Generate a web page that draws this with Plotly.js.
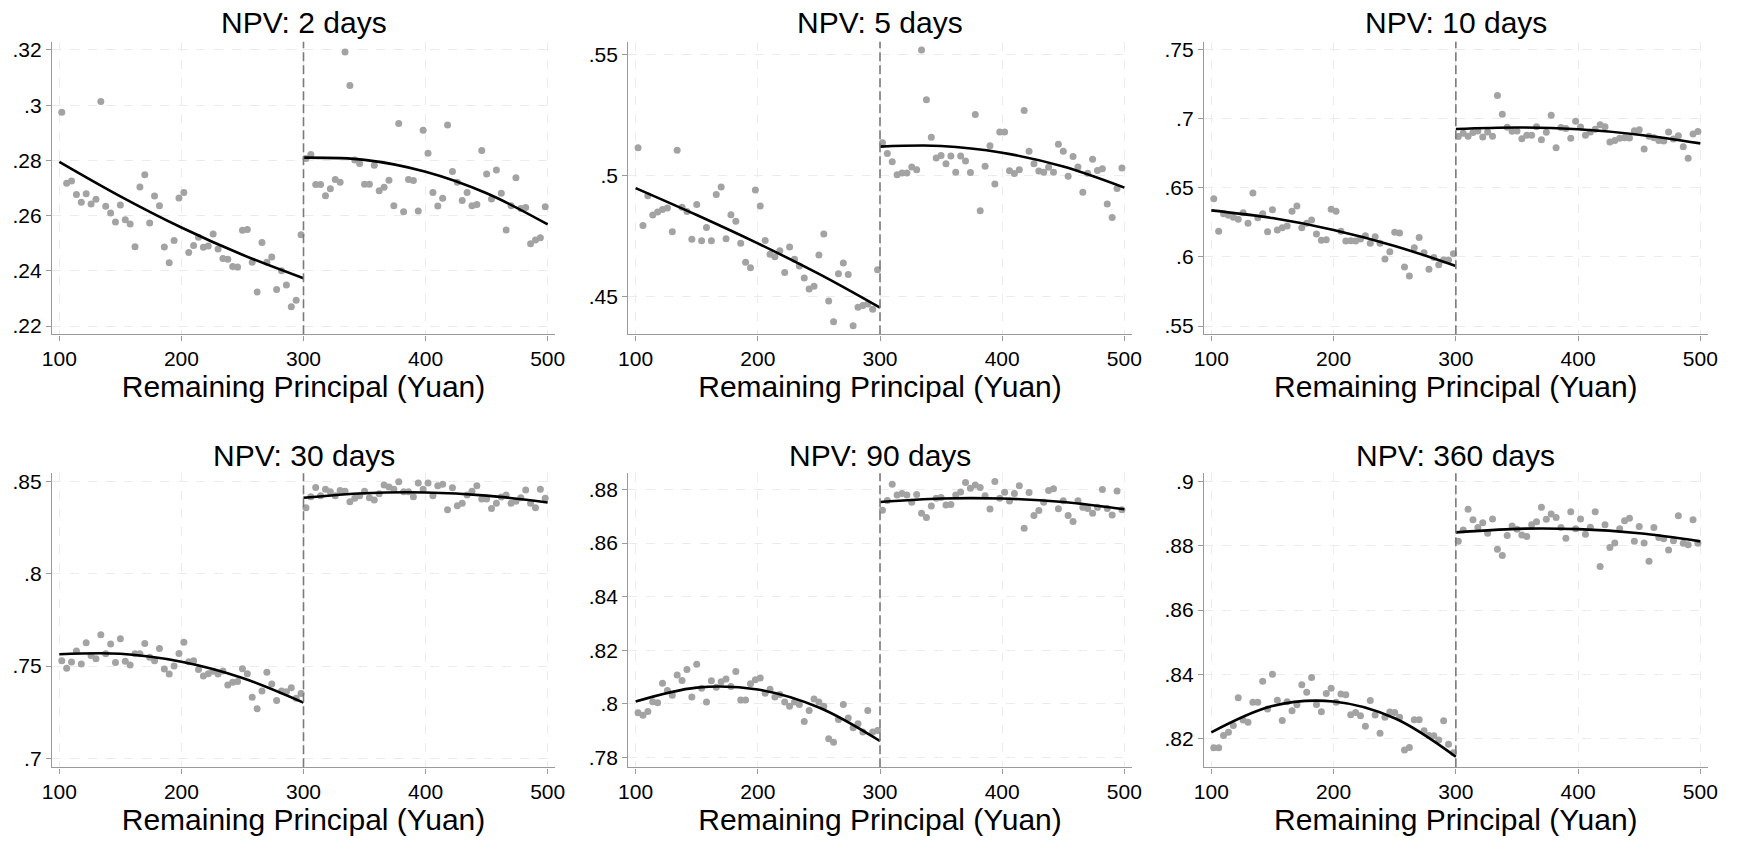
<!DOCTYPE html>
<html>
<head>
<meta charset="utf-8">
<script src="https://cdn.plot.ly/plotly-3.0.1.min.js"></script>
<style>html,body{margin:0;padding:0;background:#fff;}#chart{width:1739px;height:843px;}</style>
</head>
<body>
<div id="chart"></div>
<script>
// ---- Data (bin centers, Remaining Principal in Yuan) ----
const xLeft = [102,106,110,114,118,122,126,130,134,138,142,146,150,154,158,162,166,170,174,178,182,186,190,194,198,202,206,210,214,218,222,226,230,234,238,242,246,250,254,258,262,266,270,274,278,282,286,290,294,298];
const xRight = [302,306,310,314,318,322,326,330,334,338,342,346,350,354,358,362,366,370,374,378,382,386,390,394,398,402,406,410,414,418,422,426,430,434,438,442,446,450,454,458,462,466,470,474,478,482,486,490,494,498];

const npv2Left = [.2974,.2717,.2725,.2676,.2648,.2679,.2642,.2659,.3013,.2634,.2609,.2577,.2638,.2585,.2570,.2487,.2704,.2748,.2573,.2671,.2636,.2486,.2429,.2510,.2664,.2684,.2466,.2492,.2522,.2485,.2490,.2533,.2479,.2445,.2442,.2416,.2414,.2547,.2550,.2431,.2323,.2503,.2431,.2450,.2332,.2400,.2349,.2270,.2293,.2531];
const npv2Right = [.2807,.2821,.2713,.2713,.2672,.2697,.2731,.2721,.3193,.3071,.2801,.2789,.2714,.2714,.2782,.2690,.2703,.2728,.2636,.2934,.2614,.2731,.2727,.2617,.2909,.2826,.2684,.2635,.2663,.2928,.2760,.2721,.2655,.2684,.2636,.2640,.2836,.2751,.2660,.2765,.2681,.2548,.2636,.2737,.2626,.2629,.2498,.2512,.2520,.2632];

const npv5Left = [.5115,.4794,.4917,.4837,.4849,.4860,.4866,.4768,.5104,.4869,.4852,.4737,.4880,.4731,.4786,.4731,.4922,.4953,.4739,.4838,.4811,.4721,.4642,.4620,.4940,.4874,.4732,.4675,.4665,.4690,.4600,.4705,.4655,.4627,.4577,.4532,.4543,.4672,.4759,.4482,.4397,.4595,.4639,.4592,.4380,.4457,.4464,.4470,.4448,.4611];
const npv5Right = [.5135,.5091,.5057,.5003,.5010,.5010,.5035,.5024,.5518,.5313,.5158,.5072,.5083,.5049,.5080,.5013,.5080,.5060,.5012,.5252,.4855,.5038,.5123,.4965,.5180,.5180,.5020,.5008,.5024,.5268,.5100,.5049,.5019,.5013,.5034,.5013,.5129,.5100,.4997,.5078,.5035,.4931,.5009,.5067,.5021,.5028,.4882,.4827,.4946,.5031];

const npv10Left = [.6420,.6184,.6312,.6300,.6286,.6271,.6319,.6242,.6461,.6283,.6312,.6182,.6341,.6194,.6211,.6223,.6329,.6367,.6211,.6242,.6266,.6165,.6119,.6124,.6343,.6329,.6184,.6114,.6117,.6114,.6129,.6153,.6098,.6146,.6098,.5984,.6037,.6177,.6172,.5927,.5861,.6066,.6139,.6030,.5910,.5996,.5943,.5977,.5977,.6023];
const npv10Right = [.6869,.6893,.6871,.6898,.6910,.6866,.6902,.6871,.7167,.7030,.6936,.6907,.6910,.6854,.6878,.6878,.6941,.6847,.6900,.7023,.6789,.6934,.6927,.6857,.6980,.6939,.6878,.6902,.6922,.6955,.6941,.6830,.6840,.6857,.6861,.6859,.6912,.6918,.6780,.6871,.6861,.6840,.6837,.6902,.6852,.6876,.6796,.6712,.6888,.6905];

const npv30Left = [.7529,.7488,.7522,.7582,.7511,.7627,.7557,.7540,.7670,.7567,.7620,.7520,.7649,.7526,.7506,.7567,.7567,.7622,.7548,.7529,.7595,.7484,.7457,.7501,.7569,.7629,.7524,.7529,.7482,.7446,.7459,.7472,.7457,.7473,.7398,.7412,.7417,.7486,.7459,.7331,.7269,.7365,.7466,.7403,.7314,.7365,.7361,.7383,.7325,.7352];
const npv30Right = [.8359,.8419,.8469,.8424,.8460,.8446,.8424,.8453,.8449,.8392,.8411,.8424,.8449,.8413,.8401,.8435,.8482,.8471,.8460,.8500,.8446,.8446,.8419,.8493,.8460,.8493,.8424,.8478,.8487,.8348,.8467,.8370,.8384,.8428,.8449,.8478,.8406,.8406,.8355,.8383,.8417,.8428,.8383,.8395,.8413,.8455,.8383,.8359,.8460,.8411];

const npv90Left = [.7967,.7958,.7972,.8008,.8005,.8077,.8050,.8033,.8108,.8088,.8129,.8026,.8148,.8059,.8007,.8087,.8062,.8083,.8093,.8065,.8121,.8015,.8015,.8075,.8090,.8097,.8040,.8055,.8026,.8035,.8007,.7992,.8007,.7998,.7935,.7976,.8019,.8007,.7992,.7870,.7857,.7942,.7998,.7948,.7911,.7926,.7896,.7976,.7896,.7901];
const npv90Right = [.8722,.8759,.8819,.8779,.8785,.8779,.8752,.8781,.8711,.8695,.8738,.8767,.8770,.8742,.8744,.8779,.8790,.8826,.8804,.8816,.8807,.8776,.8727,.8829,.8767,.8789,.8757,.8785,.8814,.8655,.8788,.8703,.8721,.8752,.8796,.8802,.8728,.8758,.8703,.8680,.8758,.8733,.8729,.8711,.8733,.8800,.8729,.8705,.8794,.8724];

const npv360Left = [.8171,.8171,.8209,.8219,.8240,.8327,.8257,.8250,.8313,.8313,.8378,.8292,.8400,.8319,.8256,.8314,.8286,.8305,.8367,.8344,.8390,.8306,.8283,.8340,.8356,.8313,.8338,.8336,.8274,.8281,.8271,.8238,.8318,.8273,.8216,.8266,.8282,.8281,.8266,.8164,.8172,.8258,.8258,.8224,.8209,.8208,.8195,.8255,.8182,.8155];
const npv360Right = [.8814,.8849,.8914,.8881,.8857,.8872,.8839,.8884,.8789,.8770,.8832,.8862,.8852,.8834,.8829,.8866,.8875,.8920,.8883,.8899,.8888,.8857,.8824,.8906,.8853,.8884,.8836,.8858,.8906,.8736,.8866,.8795,.8809,.8853,.8878,.8886,.8814,.8860,.8809,.8752,.8857,.8826,.8822,.8787,.8816,.8894,.8808,.8803,.8881,.8808];

// Quadratic-fit curves
const fitXLeft = [100,150,200,250,300];
const fitXRight = [300,350,400,450,500];
const fit2Left = [.2795,.2670,.2557,.2458,.2373];
const fit2Right = [.2810,.2802,.2759,.2681,.2568];
const fit5Left = [.4948,.4837,.4720,.4594,.4455];
const fit5Right = [.5119,.5122,.5094,.5037,.4950];
const fit10Left = [.6336,.6280,.6194,.6079,.5934];
const fit10Right = [.6924,.6935,.6922,.6883,.6820];
const fit30Left = [.7564,.7567,.7524,.7436,.7302];
const fit30Right = [.8413,.8438,.8442,.8425,.8388];
const fit90Left = [.8009,.8061,.8054,.7987,.7862];
const fit90Right = [.8753,.8766,.8766,.8753,.8726];
const fit360Left = [.8219,.8301,.8315,.8263,.8143];
const fit360Right = [.8842,.8853,.8852,.8839,.8814];

const panelTitles = ["NPV: 2 days","NPV: 5 days","NPV: 10 days","NPV: 30 days","NPV: 90 days","NPV: 360 days"];
const xTicks = [100,200,300,400,500];
const yTicks2 = [.22,.24,.26,.28,.3,.32];     const yText2 = [".22",".24",".26",".28",".3",".32"];
const yTicks5 = [.45,.5,.55];                  const yText5 = [".45",".5",".55"];
const yTicks10 = [.55,.6,.65,.7,.75];          const yText10 = [".55",".6",".65",".7",".75"];
const yTicks30 = [.7,.75,.8,.85];              const yText30 = [".7",".75",".8",".85"];
const yTicks90 = [.78,.8,.82,.84,.86,.88];     const yText90 = [".78",".8",".82",".84",".86",".88"];
const yTicks360 = [.82,.84,.86,.88,.9];        const yText360 = [".82",".84",".86",".88",".9"];
const cutoff = 300;

// ---- Build figure ----
const panels = [
  {left:npv2Left, right:npv2Right, fl:fit2Left, fr:fit2Right, yt:yTicks2, ytt:yText2, yr:[.217,.323]},
  {left:npv5Left, right:npv5Right, fl:fit5Left, fr:fit5Right, yt:yTicks5, ytt:yText5, yr:[.4345,.5552]},
  {left:npv10Left, right:npv10Right, fl:fit10Left, fr:fit10Right, yt:yTicks10, ytt:yText10, yr:[.544,.7555]},
  {left:npv30Left, right:npv30Right, fl:fit30Left, fr:fit30Right, yt:yTicks30, ytt:yText30, yr:[.6951,.8546]},
  {left:npv90Left, right:npv90Right, fl:fit90Left, fr:fit90Right, yt:yTicks90, ytt:yText90, yr:[.7764,.886]},
  {left:npv360Left, right:npv360Right, fl:fit360Left, fr:fit360Right, yt:yTicks360, ytt:yText360, yr:[.811,.9026]}
];

const W = 1739, H = 843;
const colPx = [[52,555],[628.3,1131.7],[1204,1707.7]];
const rowPx = [[41.7,334.3],[473.3,767.3]];
const titleYPx = [22, 455];

const FONT = "Liberation Sans, Arial, sans-serif";
const traces = [];
const layout = {
  width: W, height: H,
  margin: {l:0, r:0, t:0, b:0},
  paper_bgcolor: "#ffffff", plot_bgcolor: "#ffffff",
  showlegend: false,
  font: {family: FONT, color: "#000"},
  annotations: [], shapes: []
};

panels.forEach((p, i) => {
  const n = i + 1;
  const xa = "x" + (n === 1 ? "" : n), ya = "y" + (n === 1 ? "" : n);
  const col = i % 3, row = Math.floor(i / 3);
  const mk = {color: "#a3a3a3", size: 7};
  traces.push({type:"scatter", mode:"markers", x:xLeft, y:p.left, xaxis:xa, yaxis:ya, marker:mk, hoverinfo:"x+y"});
  traces.push({type:"scatter", mode:"markers", x:xRight, y:p.right, xaxis:xa, yaxis:ya, marker:mk, hoverinfo:"x+y"});
  const ln = {color:"#000", width:2.6, shape:"spline", smoothing:1};
  traces.push({type:"scatter", mode:"lines", x:fitXLeft, y:p.fl, xaxis:xa, yaxis:ya, line:ln, hoverinfo:"skip"});
  traces.push({type:"scatter", mode:"lines", x:fitXRight, y:p.fr, xaxis:xa, yaxis:ya, line:ln, hoverinfo:"skip"});

  const axCommon = {
    showline: true, linecolor: "#9a9a9a", linewidth: 1.4,
    ticks: "outside", ticklen: 5, tickcolor: "#9a9a9a", tickwidth: 1.2,
    showgrid: true, gridcolor: "#ececec", griddash: "dash", gridwidth: 1,
    zeroline: false, tickfont: {family: FONT, size: 21, color: "#000"},
    fixedrange: true
  };
  layout["xaxis" + (n === 1 ? "" : n)] = Object.assign({}, axCommon, {
    anchor: ya,
    domain: [colPx[col][0] / W, colPx[col][1] / W],
    range: [94, 506], tickmode: "array", tickvals: xTicks, ticktext: xTicks.map(String),
    title: {text: "Remaining Principal (Yuan)", font: {family: FONT, size: 30, color: "#000"}, standoff: 5}
  });
  layout["yaxis" + (n === 1 ? "" : n)] = Object.assign({}, axCommon, {
    anchor: xa,
    domain: [1 - rowPx[row][1] / H, 1 - rowPx[row][0] / H],
    range: p.yr, tickmode: "array", tickvals: p.yt, ticktext: p.ytt
  });
  layout.shapes.push({type:"line", xref:xa, yref:ya + " domain", x0:cutoff, x1:cutoff, y0:0, y1:1,
    line:{color:"#7a7a7a", width:1.6, dash:"9px,4px"}});
  layout.annotations.push({
    text: panelTitles[i], xref:"paper", yref:"paper",
    x: (colPx[col][0] + colPx[col][1]) / 2 / W, y: 1 - titleYPx[row] / H,
    xanchor:"center", yanchor:"middle", showarrow:false,
    font:{family: FONT, size: 30, color:"#000"}
  });
});

Plotly.newPlot("chart", traces, layout, {displayModeBar:false, staticPlot:false});
</script>
</body>
</html>
